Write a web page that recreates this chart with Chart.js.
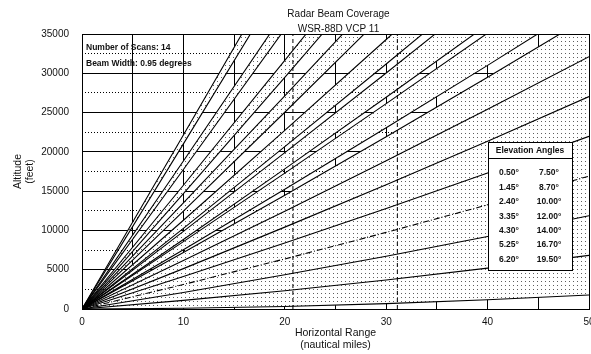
<!DOCTYPE html>
<html>
<head>
<meta charset="utf-8">
<script src="https://cdn.jsdelivr.net/npm/chart.js@4.4.0/dist/chart.umd.min.js"></script>
<style>
  html, body { margin: 0; padding: 0; background: #fff; }
  #wrap { width: 591px; height: 354px; }
</style>
</head>
<body>
<div id="wrap"><canvas id="beamChart" width="591" height="354"></canvas></div>
<script>
// range (nautical miles) at which the edge altitudes below are read
const ranges = [0, 10, 20, 30, 40, 50];

// elevation angles of VCP 11 (degrees)
const elevations = [0.5, 1.45, 2.4, 3.35, 4.3, 5.25, 6.2, 7.5, 8.7, 10, 12, 14, 16.7, 19.5];
const beamWidth = 0.95;

// altitude (ft) of each beam edge, read at the ranges above
// low block: 0.5 .. 6.2 beams touch each other
const e0025 = [0, 90, 320, 680, 1170, 1790];
const e0975 = [0, 1100, 2330, 3700, 5200, 6830];
const e1925 = [0, 2110, 4350, 6720, 9230, 11870];
const e2875 = [0, 3120, 6370, 9750, 13260, 16910];
const e3825 = [0, 4130, 8390, 12780, 17310, 21970];
const e4775 = [0, 5140, 10420, 15820, 21360, 27030];
const e5725 = [0, 6160, 12450, 18870, 25430, 32120];
const e6675 = [0, 7180, 14490, 21930, 29500, 37210];
// upper beams, with gaps between them
const e7025 = [0, 7550, 15240, 23060, 31010, 39100];
const e7975 = [0, 8580, 17290, 26140, 35110, 44220];
const e8225 = [0, 8850, 17830, 26950, 36200];
const e9175 = [0, 9880, 19900, 30040, 40320];
const e9525 = [0, 10260, 20660, 31180, 41840];
const e10475 = [0, 11300, 22730, 34300, 45990];
const e11525 = [0, 12450, 25040, 37760];
const e12475 = [0, 13500, 27140, 40910];
const e13525 = [0, 14680, 29490, 44440];
const e14475 = [0, 15750, 31640, 47650];
const e16225 = [0, 17750, 35630];
const e17175 = [0, 18840, 37820];
const e19025 = [0, 21020, 42170];
const e19975 = [0, 22150, 44430];

// dashed vertical reference ranges (nm)
const refRanges = [20.8, 31.1];

const xTicks = [0, 10, 20, 30, 40, 50];
const yMax = 35000;

const FONT = '"Liberation Sans", Arial, sans-serif';

// stipple pattern used inside the beams
function makeDots() {
  const c = document.createElement('canvas');
  c.width = 4; c.height = 4;
  const g = c.getContext('2d');
  g.fillStyle = '#fff';
  g.fillRect(0, 0, 4, 4);
  g.fillStyle = '#5e5e5e';
  g.fillRect(1, 1, 1, 1);
  return g.createPattern(c, 'repeat');
}
const dots = makeDots();

function pts(alt) {
  return alt.map((a, i) => ({ x: ranges[i], y: a }));
}

const datasets = [];
function edge(alt, fillTo, dash) {
  datasets.push({
    data: pts(alt),
    borderColor: '#000',
    borderWidth: 1.1,
    borderDash: dash || [],
    pointRadius: 0,
    tension: 0,
    fill: fillTo === undefined ? false : { target: fillTo },
    backgroundColor: dots
  });
  return datasets.length - 1;
}

// low block
const lowBase = edge(e0025);
edge(e0975);
edge(e1925);
edge(e2875, undefined, [6, 2, 1, 2]);
edge(e3825);
edge(e4775);
edge(e5725);
edge(e6675, lowBase);
// upper beams (lower edge, upper edge)
[[e7025, e7975], [e8225, e9175], [e9525, e10475], [e11525, e12475],
 [e13525, e14475], [e16225, e17175], [e19025, e19975]].forEach(pair => {
  const lo = edge(pair[0]);
  edge(pair[1], lo);
});
refRanges.forEach(r => {
  datasets.push({
    data: [{ x: r, y: 0 }, { x: r, y: yMax }],
    borderColor: '#000',
    borderWidth: 1,
    borderDash: [4, 3],
    pointRadius: 0,
    fill: false
  });
});

const overlay = {
  id: 'overlay',
  afterDatasetsDraw(chart) {
    const { ctx, chartArea: a } = chart;
    ctx.save();
    ctx.fillStyle = '#111';
    ctx.textBaseline = 'middle';

    // title
    ctx.font = '10px ' + FONT;
    ctx.textAlign = 'center';
    const cx = (a.left + a.right) / 2 + 3;
    ctx.fillText('Radar Beam Coverage', cx, 14);
    ctx.fillText('WSR-88D VCP 11', cx, 29);

    // scan info
    ctx.textAlign = 'left';
    ctx.font = 'bold 8.5px ' + FONT;
    ctx.fillText('Number of Scans: ' + elevations.length, 86, 48);
    ctx.fillText('Beam Width: ' + beamWidth.toFixed(2) + ' degrees', 86, 64);

    // elevation angle box
    const bx = 488, by = 142, bw = 84, bh = 128;
    ctx.fillStyle = '#fff';
    ctx.fillRect(bx, by, bw, bh);
    ctx.strokeStyle = '#000';
    ctx.lineWidth = 1;
    ctx.strokeRect(bx + 0.5, by + 0.5, bw, bh);
    ctx.beginPath();
    ctx.moveTo(bx, by + 16.5);
    ctx.lineTo(bx + bw, by + 16.5);
    ctx.stroke();
    ctx.fillStyle = '#111';
    ctx.font = 'bold 8.5px ' + FONT;
    ctx.textAlign = 'center';
    ctx.fillText('Elevation Angles', bx + bw / 2, by + 8.5);
    const half = Math.ceil(elevations.length / 2);
    for (let i = 0; i < half; i++) {
      const y = 173 + i * 14.4;
      ctx.fillText(elevations[i].toFixed(2) + '\u00b0', 509, y);
      if (elevations[i + half] !== undefined) {
        ctx.fillText(elevations[i + half].toFixed(2) + '\u00b0', 549, y);
      }
    }

    // plot frame
    ctx.strokeStyle = '#000';
    ctx.strokeRect(Math.round(a.left) + 0.5, Math.round(a.top) + 0.5,
      Math.round(a.right - a.left), Math.round(a.bottom - a.top));
    ctx.restore();
  }
};

new Chart(document.getElementById('beamChart'), {
  type: 'line',
  data: { datasets: datasets },
  options: {
    responsive: false,
    animation: false,
    events: [],
    layout: { padding: { top: 34, right: 2, left: 0, bottom: 0 } },
    plugins: {
      legend: { display: false },
      tooltip: { enabled: false },
      title: { display: false },
      filler: { drawTime: 'beforeDatasetsDraw', propagate: false }
    },
    scales: {
      x: {
        type: 'linear',
        min: 0,
        max: 50,
        ticks: {
          stepSize: 5,
          padding: 7,
          color: '#111',
          font: { family: FONT, size: 10 },
          maxRotation: 0,
          autoSkip: false,
          callback: v => (xTicks.includes(v) ? v : '')
        },
        grid: { color: '#000', lineWidth: 1, drawTicks: false },
        border: { display: false },
        title: {
          display: true,
          text: ['Horizontal Range', '(nautical miles)'],
          color: '#111',
          font: { family: FONT, size: 10.5, lineHeight: 1.15 },
          padding: { top: 0, bottom: 3 }
        },
        afterFit: s => { s.height = 45; s.paddingLeft = 0; s.paddingRight = 0; }
      },
      y: {
        min: 0,
        max: yMax,
        ticks: {
          stepSize: 2500,
          padding: 13,
          color: '#111',
          font: { family: FONT, size: 10 },
          autoSkip: false,
          callback: v => (v % 5000 === 0 ? v : '')
        },
        grid: { color: '#000', lineWidth: 1, drawTicks: false },
        border: {
          display: false,
          dash: ctx => (ctx.tick && ctx.tick.value % 5000 !== 0 ? [1, 2] : [])
        },
        title: {
          display: true,
          text: ['Altitude', '(feet)'],
          color: '#111',
          font: { family: FONT, size: 10.5, lineHeight: 1.15 },
          padding: { top: 12, bottom: 0 }
        },
        afterFit: s => { s.width = 82; s.paddingTop = 0; s.paddingBottom = 0; }
      }
    }
  },
  plugins: [overlay]
});
</script>
</body>
</html>
